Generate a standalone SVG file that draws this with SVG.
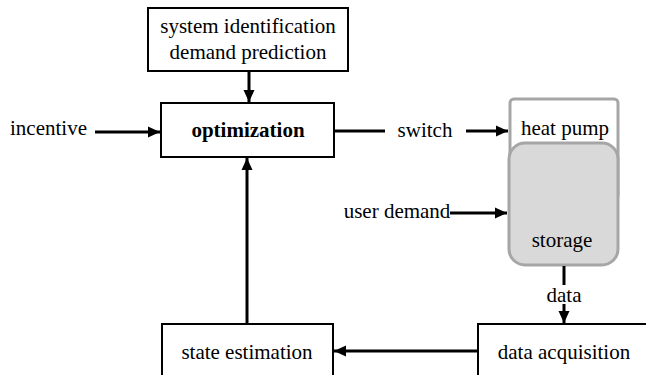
<svg xmlns="http://www.w3.org/2000/svg" width="646" height="375" viewBox="0 0 646 375">
  <style>
    .box { fill: #fff; stroke: #000; stroke-width: 2; }
    .wire { stroke: #000; stroke-width: 3; fill: none; }
  </style>
  <defs>
    <marker id="arrow" markerUnits="userSpaceOnUse" markerWidth="12" markerHeight="12" viewBox="0 0 12 12" refX="12" refY="6" orient="auto">
      <path d="M0,0.5 L12,6 L0,11.5 Z" fill="#000"/>
    </marker>
  </defs>

  <rect width="646" height="375" fill="#fff"/>

  <g font-family="Liberation Serif, serif" font-size="21" fill="#000">
    <!-- blocks -->
    <g id="sysid">
      <rect class="box" x="148" y="8" width="200" height="63"/>
      <text x="248" y="33" text-anchor="middle">system identification</text>
      <text x="248" y="59" text-anchor="middle">demand prediction</text>
    </g>

    <g id="optimization">
      <rect class="box" x="161" y="103" width="173" height="54"/>
      <text x="248" y="137" text-anchor="middle" font-weight="bold">optimization</text>
    </g>

    <!-- heat pump casing; its lower part sits behind the storage tank -->
    <g id="heatpump">
      <rect x="510" y="99" width="108" height="100" rx="4" fill="#fff" stroke="#a6a6a6" stroke-width="3"/>
      <text x="565" y="135" text-anchor="middle">heat pump</text>
    </g>

    <g id="storage">
      <rect x="509" y="143" width="109" height="122" rx="16" fill="#d9d9d9" stroke="#a6a6a6" stroke-width="3"/>
      <text x="562" y="247" text-anchor="middle">storage</text>
    </g>

    <g id="acquisition">
      <rect class="box" x="478" y="324" width="180" height="60"/>
      <text x="564" y="359" text-anchor="middle">data acquisition</text>
    </g>

    <g id="estimation">
      <rect class="box" x="162" y="324" width="171" height="60"/>
      <text x="247" y="359" text-anchor="middle">state estimation</text>
    </g>

    <!-- inputs and signal labels -->
    <g id="labels">
      <text x="10" y="135">incentive</text>
      <text x="425" y="137" text-anchor="middle">switch</text>
      <text x="397" y="218" text-anchor="middle">user demand</text>
      <text x="564" y="302" text-anchor="middle">data</text>
    </g>
  </g>

  <!-- connectors -->
  <g id="connectors">
    <line class="wire" x1="249" y1="71" x2="249" y2="102" marker-end="url(#arrow)"/>
    <line class="wire" x1="95" y1="132" x2="160" y2="132" marker-end="url(#arrow)"/>
    <line class="wire" x1="334" y1="131" x2="385" y2="131"/>
    <line class="wire" x1="466" y1="131" x2="508" y2="131" marker-end="url(#arrow)"/>
    <line class="wire" x1="450" y1="213" x2="507" y2="213" marker-end="url(#arrow)"/>
    <line class="wire" x1="564" y1="266" x2="564" y2="285"/>
    <line class="wire" x1="564" y1="304" x2="564" y2="323" marker-end="url(#arrow)"/>
    <line class="wire" x1="477" y1="351" x2="334" y2="351" marker-end="url(#arrow)"/>
    <line class="wire" x1="247" y1="323" x2="247" y2="158" marker-end="url(#arrow)"/>
  </g>
</svg>
